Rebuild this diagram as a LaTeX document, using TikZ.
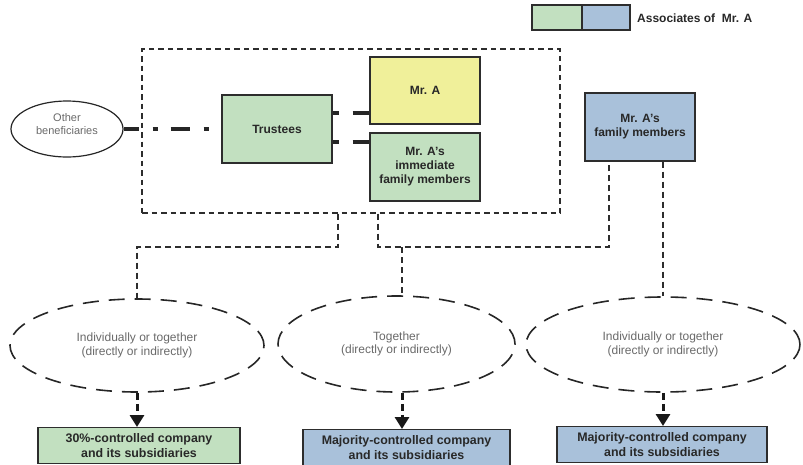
\documentclass[tikz,border=0pt]{standalone}
\usepackage{fontspec}
\setmainfont{Liberation Sans}
\usetikzlibrary{shapes.geometric,calc,arrows.meta}
\definecolor{gbox}{RGB}{194,224,192}
\definecolor{bbox}{RGB}{169,193,218}
\definecolor{ybox}{RGB}{240,240,154}
\definecolor{edgec}{RGB}{45,45,45}
\definecolor{txtb}{RGB}{40,40,40}
\definecolor{txtg}{RGB}{105,105,105}
\begin{document}
\begin{tikzpicture}[x=1pt,y=-1pt,
  box/.style={draw=edgec, line width=1.3pt, inner sep=0pt, text=txtb,
    font=\bfseries\fontsize{12}{14}\selectfont, align=center},
  bottombox/.style={draw=edgec, line width=1.3pt, inner xsep=0pt, inner ysep=6pt, text=txtb,
    font=\bfseries\fontsize{12.4}{15}\selectfont, align=center, anchor=north},
  grpbox/.style={draw=edgec, line width=1.2pt, dash pattern=on 5.5pt off 4pt, inner sep=0pt},
  cdash/.style={draw=edgec, line width=1.2pt, dash pattern=on 6pt off 4pt},
  bigdash/.style={draw=black!85, line width=4.5pt},
  ctrl/.style={ellipse, draw=black!85, line width=1.6pt, dash pattern=on 16pt off 10pt,
    inner sep=0pt, text=txtg, font=\fontsize{12}{13.5}\selectfont, align=center},
  arr/.style={draw=black!90, line width=3pt, dash pattern=on 7pt off 4pt,
    -{Triangle[length=12pt,width=14pt]}},
]
\useasboundingbox (0,0) rectangle (803,464);

% legend
\node[box, fill=gbox, minimum width=50pt, minimum height=25pt] (L1) at (557,17.5) {};
\node[box, fill=bbox, minimum width=48pt, minimum height=25pt] (L2) at (606,17.5) {};
\node[anchor=west, text=txtb, font=\bfseries\fontsize{12}{14}\selectfont, inner sep=0pt] (LT) at (637,18) {Associates of\ \ Mr. A};

% group box
\node[grpbox, minimum width=418pt, minimum height=164pt] (grp) at (351,131) {};

% boxes
\node[box, fill=gbox, minimum width=110pt, minimum height=68pt] (T) at (277,129) {Trustees};
\node[box, fill=ybox, minimum width=110pt, minimum height=67pt] (MA) at (425,90.5) {Mr. A};
\node[box, fill=gbox, minimum width=110pt, minimum height=68pt] (IM) at (425,167) {Mr. A’s\\immediate\\family members};
\node[box, fill=bbox, minimum width=110pt, minimum height=68pt] (FM) at (640,127) {Mr. A’s\\family members};

% other beneficiaries
\node[ellipse, draw=black!85, line width=1.2pt, minimum width=112pt, minimum height=56pt, inner sep=0pt,
  text=txtg, font=\fontsize{11}{13}\selectfont, align=center] (OB) at (67,129) {Other\\beneficiaries\\[-3pt]};

% control ellipses
\node[ctrl, minimum width=254pt, minimum height=93pt] (E1) at (137,345.5) {Individually or together\\(directly or indirectly)};
\node[ctrl, minimum width=237pt, minimum height=96pt] (E2) at (396.5,344) {Together\\(directly or indirectly)};
\node[ctrl, minimum width=274pt, minimum height=95pt] (E3) at (663,344.5) {Individually or together\\(directly or indirectly)};

% bottom boxes
\node[bottombox, fill=gbox, minimum width=202pt] (B1) at (139,427) {30\%-controlled company\\and its subsidiaries};
\node[bottombox, fill=bbox, minimum width=207pt] (B2) at (406.5,429) {Majority-controlled company\\and its subsidiaries};
\node[bottombox, fill=bbox, minimum width=210pt] (B3) at (662,426) {Majority-controlled company\\and its subsidiaries};

% thick dash-dot links
\draw[bigdash, dash pattern=on 15pt off 14pt on 5pt off 13pt on 19pt off 14pt on 5pt off 30pt] (OB.east) -- (T.west);
\draw[bigdash, dash pattern=on 6pt off 14pt on 30pt] (T.east |- 0,113) -- (MA.west |- 0,113);
\draw[bigdash, dash pattern=on 6pt off 14pt on 30pt] (T.east |- 0,142) -- (IM.west |- 0,142);

% dashed connectors
\draw[cdash] (grp.south -| 338,0) -- (338,247) -| (E1.north);
\draw[cdash] (grp.south -| 378,0) -- (378,247) -| (FM.south -| 609,0);
\draw[cdash] (402,247) -- (E2.north -| 402,0);
\draw[cdash] (FM.south -| 663,0) -- (E3.north);

% arrows
\draw[arr] (E1.south) -- (E1.south |- B1.north);
\draw[arr] (E2.south -| 402,0) -- (B2.north -| 402,0);
\draw[arr] (E3.south) -- (E3.south |- B3.north);
\end{tikzpicture}
\end{document}
